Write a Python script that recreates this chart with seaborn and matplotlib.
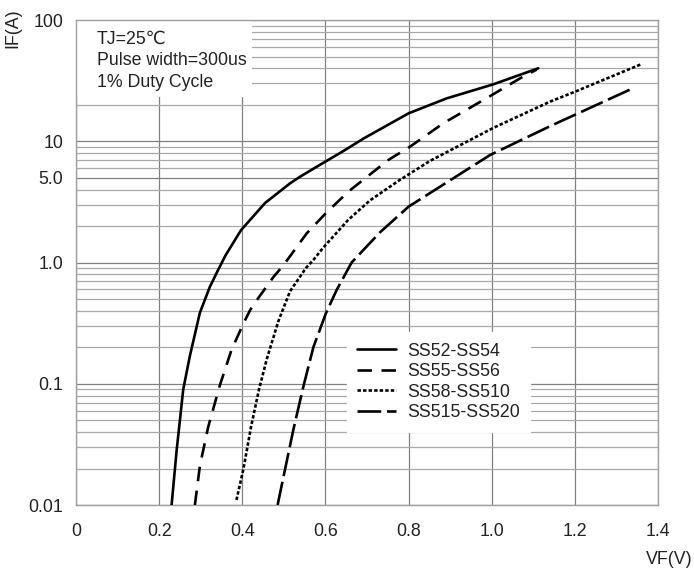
import matplotlib
matplotlib.use('Agg')
import matplotlib.pyplot as plt
import matplotlib.patches as mpatches
from matplotlib.ticker import FixedLocator, LogLocator, NullFormatter
import seaborn as sns

# 1: valeurs (VF en V, IF en A)
vf_ss52 = [0.230, 0.242, 0.258, 0.274, 0.298, 0.322, 0.342, 0.360, 0.397, 0.455, 0.515, 0.539,
           0.587, 0.643, 0.691, 0.800, 0.892, 1.004, 1.112]
if_ss52 = [0.010, 0.028, 0.090, 0.170, 0.385, 0.630, 0.870, 1.150, 1.850, 3.100, 4.500, 5.100,
           6.400, 8.300, 10.50, 17.00, 22.60, 29.50, 40.00]

vf_ss55 = [0.286, 0.298, 0.318, 0.346, 0.374, 0.402, 0.419, 0.435, 0.475, 0.499, 0.523, 0.555,
           0.601, 0.655, 0.751, 0.803, 0.884, 1.000, 1.068, 1.108]
if_ss55 = [0.010, 0.021, 0.044, 0.097, 0.190, 0.310, 0.406, 0.490, 0.760, 0.950, 1.230, 1.740,
           2.550, 3.840, 7.000, 9.000, 14.10, 24.00, 33.00, 39.00]

vf_ss58 = [0.386, 0.403, 0.421, 0.440, 0.459, 0.487, 0.515, 0.553, 0.571, 0.595, 0.627, 0.655,
           0.707, 0.779, 0.852, 1.004, 1.140, 1.200, 1.361]
if_ss58 = [0.011, 0.020, 0.044, 0.089, 0.160, 0.330, 0.580, 0.900, 1.050, 1.330, 1.760, 2.250,
           3.250, 4.800, 6.900, 12.90, 21.20, 25.60, 43.40]

vf_ss515 = [0.485, 0.499, 0.523, 0.547, 0.571, 0.601, 0.627, 0.663, 0.731, 0.800, 0.996, 1.140, 1.337]
if_ss515 = [0.010, 0.017, 0.042, 0.095, 0.200, 0.380, 0.593, 1.000, 1.770, 2.890, 7.700, 13.30, 27.10]

labels = ['SS52-SS54', 'SS55-SS56', 'SS58-SS510', 'SS515-SS520']
y_ticks = [0.01, 0.1, 1, 5, 10, 100]
y_ticklabels = ['0.01', '0.1', '1.0', '5.0', '10', '100']
x_ticks = [0, 0.2, 0.4, 0.6, 0.8, 1.0, 1.2, 1.4]
x_ticklabels = ['0', '0.2', '0.4', '0.6', '0.8', '1.0', '1.2', '1.4']

# 2: style
sns.set_theme(style='white')
plt.rcParams['font.family'] = ['Liberation Sans', 'DejaVu Sans']
fs = 12.8

fig = plt.figure(figsize=(6.94, 5.72), dpi=100)
ax = fig.add_axes([0.1095, 0.1171, 0.8386, 0.8479])

series = [
    (vf_ss52, if_ss52, '-'),
    (vf_ss55, if_ss55, (0, (5.5, 3.6))),
    (vf_ss58, if_ss58, (0, (1.3, 0.8))),
    (vf_ss515, if_ss515, (0, (9, 2.2))),
]
for (vf, cur, ls), lab in zip(series, labels):
    sns.lineplot(x=vf, y=cur, ax=ax, color='black', linewidth=1.9,
                 linestyle=ls, label=lab, zorder=3)

# 3: axes
ax.set_yscale('log')
ax.set_xlim(0, 1.4)
ax.set_ylim(0.01, 100)
ax.xaxis.set_major_locator(FixedLocator(x_ticks))
ax.set_xticklabels(x_ticklabels)
ax.yaxis.set_major_locator(FixedLocator(y_ticks))
ax.set_yticklabels(y_ticklabels)
ax.yaxis.set_minor_locator(LogLocator(base=10, subs=range(2, 10)))
ax.yaxis.set_minor_formatter(NullFormatter())
ax.tick_params(axis='both', which='both', length=0, labelsize=fs, colors='#222222')
ax.tick_params(axis='x', pad=13)
ax.tick_params(axis='y', pad=9)

ax.set_axisbelow(True)
ax.grid(True, axis='x', which='major', color='#808080', linewidth=0.9)
ax.grid(True, axis='y', which='major', color='#808080', linewidth=0.9)
ax.grid(True, axis='y', which='minor', color='#a8a8a8', linewidth=0.9)
for sp in ax.spines.values():
    sp.set_color('#a0a0a0')
    sp.set_linewidth(1)

ax.set_xlabel('')
ax.set_ylabel('')
fig.text(0.998, 0.022, 'VF(V)', ha='right', va='center', fontsize=fs, color='#222222')
fig.text(0.018, 0.95, 'IF(A)', ha='center', va='center', rotation=90, fontsize=fs, color='#222222')

# 4: cadre des conditions de test
ax.add_patch(mpatches.Rectangle((0, 0.841), 0.302, 0.159, transform=ax.transAxes,
                                facecolor='white', edgecolor='none', zorder=1.5))
ax.text(0.036, 0.977, 'TJ=25\u2103\nPulse width=300us\n1% Duty Cycle', transform=ax.transAxes,
        ha='left', va='top', fontsize=fs, linespacing=1.33, color='#222222', zorder=2)

# 5: légende
leg = ax.legend(loc='upper left', bbox_to_anchor=(0.465, 0.357), frameon=True,
                fancybox=False, facecolor='white', edgecolor='white', framealpha=1,
                fontsize=fs, handlelength=2.2, handletextpad=0.6, labelspacing=0.2,
                borderpad=0.6, borderaxespad=0)
for t in leg.get_texts():
    t.set_color('#222222')

plt.savefig('out.png', dpi=100)
